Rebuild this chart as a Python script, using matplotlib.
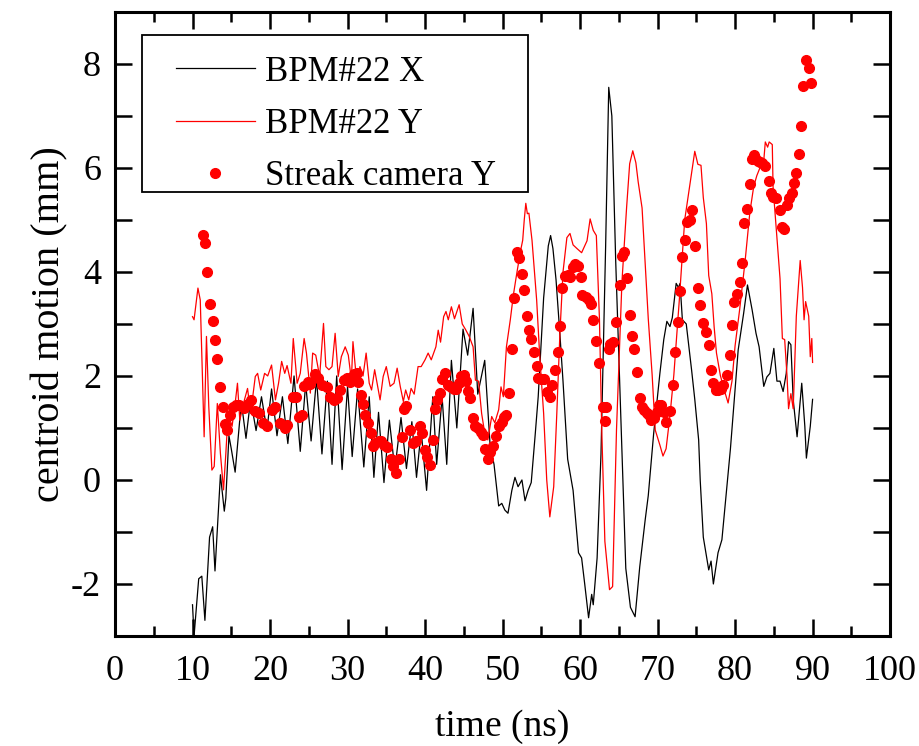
import matplotlib
matplotlib.use("Agg")
import numpy as np
import matplotlib.pyplot as plt
from matplotlib.lines import Line2D
from matplotlib.patches import Rectangle
from matplotlib.legend_handler import HandlerLine2D
from matplotlib.ticker import MultipleLocator, FuncFormatter

plt.rcParams['font.family'] = ['Liberation Serif', 'DejaVu Serif']
plt.rcParams['axes.unicode_minus'] = False

# BPM#22 X (black line)
bpm_x_t = [10.0, 10.2, 10.8, 11.2, 11.6, 12.2, 12.6, 12.9, 13.6, 14.1,
           14.3, 14.7, 15.0, 15.5, 16.3, 16.9, 17.5, 18.2, 18.9, 19.6,
           20.2, 20.9, 21.6, 22.3, 23.1, 23.9, 24.6, 25.3, 26.0, 26.7,
           27.4, 28.0, 28.6, 29.3, 30.0, 30.6, 31.3, 32.1, 32.8, 33.4,
           34.0, 34.7, 35.4, 36.1, 36.9, 37.6, 38.3, 38.9, 39.5, 40.2,
           41.0, 41.5, 42.2, 42.8, 43.4, 44.1, 44.9, 45.5, 46.2, 46.8,
           47.7, 48.4, 48.9, 49.5, 49.9, 50.3, 50.7, 51.2, 51.6, 52.0,
           52.5, 52.9, 53.3, 53.7, 54.2, 54.6, 55.3, 55.9, 56.2, 56.5,
           56.9, 57.4, 57.8, 58.4, 59.1, 59.8, 60.2, 60.6, 61.1, 61.5,
           61.7, 62.2, 62.7, 63.3, 63.7, 64.1, 64.6, 65.3, 65.9, 66.5,
           67.1, 67.7, 68.4, 68.8, 69.5, 70.3, 70.8, 71.2, 71.6, 71.9,
           72.4, 72.7, 72.9, 73.2, 73.7, 74.4, 74.8, 75.3, 75.5, 75.9,
           76.6, 76.9, 77.2, 77.8, 78.3, 78.9, 79.4, 80.0, 80.4, 81.1,
           81.6, 82.2, 82.7, 83.1, 83.7, 84.1, 84.5, 85.0, 85.4, 85.8,
           86.2, 86.6, 86.9, 87.2, 87.5, 88.0, 88.6, 89.0, 89.2, 89.7, 90.0]
bpm_x = [-2.4, -3.0, -1.9, -1.85, -2.7, -1.1, -0.9, -1.75, 0.1, -0.6,
         -0.35, 0.85, 0.6, 0.15, 1.5, 0.8, 1.55, 0.95, 1.6, 0.95,
         1.75, 0.85, 1.6, 0.7, 2.0, 0.55, 1.85, 0.75, 1.95, 0.5,
         1.9, 0.3, 2.0, 0.2, 1.8, 0.45, 1.75, 0.25, 1.6, 0.05,
         1.3, -0.05, 1.15, 0.2, 1.2, 0.22, 1.12, 0.05, 0.95, -0.2,
         1.6, 0.3, 1.6, 0.3, 2.3, 1.0, 2.9, 2.4, 3.3, 1.65,
         2.3, 0.65, 0.3, -0.5, -0.45, -0.58, -0.64, -0.2, 0.05, -0.13,
         0.0, -0.4, -0.2, -0.05, 0.85, 1.6, 3.5, 4.5, 4.7, 4.45,
         3.85, 2.8, 1.9, 0.4, -0.2, -1.4, -1.5, -2.0, -2.65, -2.2,
         -2.4, -1.5, 0.5, 4.5, 7.55, 7.0, 4.2, 1.0, -1.7, -2.45,
         -2.63, -1.67, -0.77, -0.3, 0.9, 2.05, 2.7, 3.05, 2.95, 3.12,
         3.78, 3.7, 3.78, 3.08, 3.0, 2.1, 1.55, 0.77, 0.0, -1.1,
         -1.73, -1.56, -2.0, -1.4, -1.15, -0.2, 0.6, 1.73, 2.5, 3.2,
         3.75, 3.27, 2.82, 2.56, 1.8, 1.98, 2.05, 2.53, 1.9, 1.9,
         1.7, 2.05, 2.66, 2.6, 1.54, 0.83, 1.86, 1.03, 0.42, 1.03, 1.55]

# BPM#22 Y (red line)
bpm_y_t = [10.0, 10.2, 10.7, 11.0, 11.5, 11.8, 12.1, 12.5, 12.8, 13.2,
           13.6, 14.0, 14.3, 14.6, 15.1, 15.5, 15.8, 16.1, 16.7, 17.1,
           17.5, 18.1, 18.4, 18.8, 19.3, 19.7, 20.2, 20.7, 21.1, 21.5,
           21.9, 22.2, 22.7, 23.0, 23.5, 23.9, 24.4, 24.7, 25.2, 25.5,
           25.9, 26.4, 26.9, 27.2, 27.6, 28.0, 28.4, 28.8, 29.2, 29.7,
           30.1, 30.5, 30.7, 31.2, 31.6, 32.0, 32.4, 32.8, 33.1, 33.5,
           34.2, 34.6, 35.0, 35.5, 36.0, 36.4, 36.8, 37.2, 37.5, 37.9,
           38.2, 38.6, 39.1, 39.5, 40.0, 40.4, 40.8, 41.4, 41.7, 42.0,
           42.4, 42.7, 43.0, 43.4, 43.8, 44.4, 44.8, 45.2, 45.7, 46.2,
           46.5, 46.9, 47.3, 47.7, 48.1, 48.6, 49.0, 49.5, 49.8, 50.1,
           50.5, 51.0, 51.4, 51.8, 52.3, 52.6, 52.8, 53.0, 53.2, 53.4,
           53.8, 54.4, 54.8, 55.3, 55.7, 56.1, 56.6, 57.0, 57.4, 57.8,
           58.3, 58.7, 59.1, 59.6, 60.2, 60.6, 60.9, 61.3, 61.7, 62.1,
           62.5, 62.8, 63.2, 63.8, 64.2, 64.7, 65.4, 66.0, 66.4, 66.8,
           67.2, 67.5, 68.0, 68.4, 68.8, 69.3, 69.7, 70.3, 70.7, 71.1,
           71.6, 72.1, 72.8, 73.5, 74.2, 74.8, 75.2, 75.6, 75.9, 76.3,
           76.6, 77.0, 77.3, 77.6, 78.1, 78.6, 79.1, 79.6, 80.0, 80.6,
           81.3, 81.9, 82.4, 82.8, 83.2, 83.7, 83.9, 84.2, 84.4, 84.8,
           84.9, 85.3, 85.8, 86.1, 86.4, 86.7, 86.9, 87.2, 87.5, 87.9,
           88.4, 88.7, 88.9, 89.1, 89.5, 89.7, 89.9, 90.0]
bpm_y = [3.14, 3.08, 3.69, 3.46, 0.83, 2.76, 1.41, 0.19, 0.26, 1.47,
         0.51, -0.19, 0.51, 1.28, 1.03, 1.47, 1.86, 1.15, 1.54, 1.76,
         1.28, 1.99, 2.05, 1.73, 2.05, 2.0, 2.21, 1.54, 1.86, 2.28,
         2.05, 2.2, 1.86, 2.72, 1.86, 2.05, 2.72, 2.44, 1.67, 2.44,
         2.4, 1.99, 3.01, 2.18, 2.12, 2.18, 2.82, 1.99, 2.37, 2.56,
         2.4, 1.92, 2.66, 1.86, 2.18, 2.0, 2.44, 1.86, 1.73, 2.12,
         1.54, 1.99, 2.18, 1.8, 1.86, 2.15, 1.8, 1.51, 1.73, 1.54,
         1.76, 1.65, 2.18, 2.18, 2.31, 2.44, 2.31, 2.56, 2.88, 2.65,
         3.14, 3.24, 3.08, 3.33, 3.1, 3.37, 3.0, 2.9, 2.76, 2.56,
         1.92, 1.9, 1.28, 0.9, 0.77, 1.22, 1.1, 1.35, 1.79, 1.6,
         2.56, 3.08, 3.56, 3.94, 4.39, 4.61, 5.0, 5.32, 5.12, 5.13,
         4.61, 3.46, 2.37, 1.28, 0.0, -0.71, -0.13, 1.28, 2.82, 4.0,
         4.66, 4.74, 4.52, 4.45, 4.37, 4.5, 4.6, 5.02, 4.8, 4.7,
         3.1, 0.96, -1.18, -2.11, -2.05, 0.96, 3.8, 5.23, 6.08, 6.33,
         6.1, 5.73, 5.23, 4.16, 3.1, 2.02, 0.96, 0.67, 0.46, 0.6,
         1.24, 2.02, 3.45, 5.0, 5.71, 6.32, 6.07, 6.05, 5.43, 4.93,
         3.93, 3.58, 2.94, 2.44, 2.01, 1.73, 1.48, 1.9, 2.58, 3.29,
         4.22, 5.14, 5.64, 5.85, 6.0, 6.14, 6.5, 6.4, 6.5, 6.45,
         5.64, 4.86, 3.87, 2.72, 2.7, 2.0, 1.37, 1.66, 1.37, 3.15,
         4.22, 3.7, 3.08, 3.43, 3.15, 2.37, 2.72, 2.26]

# Streak camera Y (red dots)
streak_t = [11.3, 11.6, 11.9, 12.2, 12.6, 12.9, 13.2, 13.5, 13.9, 14.2,
            14.5, 14.9, 15.2, 15.6, 16.0, 16.6, 17.2, 17.6, 18.1, 18.6,
            19.1, 19.6, 20.2, 20.6, 21.3, 21.9, 22.2, 23.0, 23.4, 23.8,
            24.1, 24.4, 24.9, 25.2, 25.8, 26.2, 26.7, 27.3, 27.7, 28.2,
            28.7, 29.0, 29.5, 29.9, 30.3, 30.8, 31.2, 31.4, 31.7, 32.0,
            32.3, 32.7, 33.0, 33.3, 33.6, 34.0, 34.3, 34.7, 35.1, 35.6,
            35.9, 36.3, 36.6, 37.0, 37.3, 37.6, 38.0, 38.4, 38.8, 39.3,
            39.6, 40.0, 40.3, 40.6, 41.0, 41.3, 41.6, 41.9, 42.2, 42.6,
            43.0, 43.3, 43.7, 44.0, 44.4, 44.7, 45.0, 45.3, 45.6, 45.8,
            46.2, 46.5, 46.8, 47.2, 47.5, 47.7, 48.1, 48.4, 48.8, 49.2,
            49.5, 49.9, 50.2, 50.5, 50.8, 51.2, 51.5, 51.8, 52.1, 52.5,
            52.8, 53.2, 53.4, 53.7, 54.1, 54.4, 54.6, 55.0, 55.4, 55.7,
            56.1, 56.4, 56.8, 57.1, 57.4, 57.7, 58.1, 58.5, 58.7, 59.1,
            59.4, 59.7, 60.1, 60.3, 60.8, 61.1, 61.4, 61.7, 62.0, 62.4,
            62.9, 63.2, 63.4, 63.7, 63.9, 64.2, 64.7, 65.1, 65.4, 65.7,
            66.0, 66.4, 66.7, 67.0, 67.3, 67.7, 68.0, 68.3, 68.6, 68.9,
            69.2, 69.6, 69.9, 70.2, 70.5, 70.8, 71.1, 71.6, 72.0, 72.3,
            72.6, 72.9, 73.2, 73.5, 73.8, 74.2, 74.4, 74.8, 75.2, 75.5,
            75.9, 76.2, 76.6, 76.9, 77.2, 77.5, 77.8, 78.2, 78.5, 78.9,
            79.3, 79.6, 79.9, 80.2, 80.6, 80.9, 81.2, 81.5, 81.9, 82.2,
            82.4, 82.6, 82.9, 83.2, 83.5, 83.8, 84.4, 84.6, 84.9, 85.3,
            85.8, 86.0, 86.3, 86.7, 87.0, 87.3, 87.6, 87.9, 88.2, 88.5,
            88.8, 89.2, 89.5, 89.8]
streak_y = [4.71, 4.55, 3.99, 3.38, 3.06, 2.70, 2.33, 1.78, 1.41, 1.08,
            0.97, 1.25, 1.40, 1.45, 1.45, 1.38, 1.47, 1.54, 1.32, 1.28,
            1.09, 1.03, 1.35, 1.41, 1.10, 1.00, 1.05, 1.60, 1.60, 1.22,
            1.24, 1.81, 1.88, 1.85, 2.04, 1.96, 1.83, 1.79, 1.60, 1.54,
            1.57, 1.73, 1.92, 1.96, 1.89, 2.04, 2.05, 1.89, 1.63, 1.47,
            1.25, 1.10, 0.91, 0.65, 0.72, 0.74, 0.74, 0.68, 0.63, 0.40,
            0.26, 0.13, 0.40, 0.82, 1.36, 1.42, 0.96, 0.72, 0.74, 1.03,
            0.90, 0.58, 0.45, 0.29, 0.76, 1.36, 1.53, 1.67, 1.94, 2.05,
            1.83, 1.79, 1.74, 1.74, 1.86, 2.00, 2.02, 1.90, 1.72, 1.57,
            1.19, 1.03, 1.00, 0.93, 0.87, 0.59, 0.40, 0.53, 0.65, 0.85,
            1.03, 1.12, 1.22, 1.25, 1.67, 2.51, 3.49, 4.39, 4.27, 3.97,
            3.65, 3.15, 2.88, 2.72, 2.47, 2.19, 1.97, 1.94, 1.94, 1.70,
            1.60, 1.83, 2.12, 2.47, 2.96, 3.69, 3.92, 3.94, 3.90, 4.10,
            4.15, 4.12, 3.90, 3.56, 3.51, 3.47, 3.39, 3.08, 2.68, 2.24,
            1.41, 1.14, 1.41, 2.51, 2.61, 2.66, 3.04, 3.75, 4.31, 4.39,
            3.88, 3.17, 2.77, 2.51, 2.08, 1.57, 1.41, 1.35, 1.29, 1.25,
            1.15, 1.20, 1.31, 1.45, 1.45, 1.31, 1.12, 1.33, 1.83, 2.47,
            3.03, 3.64, 4.29, 4.62, 4.97, 5.00, 5.19, 4.49, 3.70, 3.37,
            3.01, 2.85, 2.60, 2.12, 1.87, 1.73, 1.73, 1.74, 1.83, 2.02,
            2.40, 2.98, 3.43, 3.58, 3.81, 4.18, 4.94, 5.22, 5.69, 6.17,
            6.25, 6.20, 6.14, 6.12, 6.09, 6.04, 5.75, 5.51, 5.45, 5.42,
            5.19, 4.86, 4.83, 5.29, 5.42, 5.51, 5.71, 5.91, 6.26, 6.81,
            7.58, 8.08, 7.92, 7.64]

labels = ['BPM#22 X', 'BPM#22 Y', 'Streak camera Y']


# legend handle: line drawn only on the right part of the handle box
class ShiftedLine(HandlerLine2D):
    def get_xdata(self, legend, xdescent, ydescent, width, height, fontsize):
        x0 = -xdescent + 0.19 * width
        x1 = -xdescent + width
        return np.array([x0, x1]), np.array([(x0 + x1) / 2])


fig = plt.figure(figsize=(9.2, 7.46), dpi=100)
ax = fig.add_axes([0.125, 0.1475, 0.8425, 0.8365])

ax.plot(bpm_x_t, bpm_x, color='black', lw=0.9)
ax.plot(bpm_y_t, bpm_y, color='red', lw=0.9)
ax.plot(streak_t, streak_y, 'o', color='red', ms=7, mec='red')

ax.set_xlim(0, 100)
ax.set_ylim(-3, 9)
ax.xaxis.set_major_locator(MultipleLocator(10))
ax.xaxis.set_minor_locator(MultipleLocator(5))
ax.yaxis.set_major_locator(MultipleLocator(2))
ax.yaxis.set_minor_locator(MultipleLocator(1))
ax.yaxis.set_major_formatter(FuncFormatter(lambda v, p: '%d' % v))

ax.tick_params(which='both', direction='in', top=True, right=True, width=1.8,
               labelsize=26)
ax.tick_params(axis='x', which='major', length=12, pad=14)
ax.tick_params(axis='x', which='minor', length=7)
ax.tick_params(axis='y', which='both', length=12, pad=10)
for s in ax.spines.values():
    s.set_linewidth(2.2)

ax.set_xlabel('time (ns)', fontsize=27, labelpad=15)
ax.set_ylabel('centroid motion (mm)', fontsize=29, labelpad=2)

# legend frame
ax.add_patch(Rectangle((0.0348, 0.7115), 0.4981, 0.2516, transform=ax.transAxes,
                       fill=False, edgecolor='black', lw=1.3, zorder=4))

handles = [Line2D([], [], color='black', lw=0.9),
           Line2D([], [], color='red', lw=0.9),
           Line2D([], [], ls='', marker='o', color='red', ms=7)]
leg = ax.legend(handles, labels, loc='upper left',
                bbox_to_anchor=(0.0348, 0.955), frameon=False,
                fontsize=25, handlelength=2.8, handletextpad=0.29,
                labelspacing=0.55, borderpad=0.45, borderaxespad=0,
                numpoints=1, handler_map={Line2D: ShiftedLine()})

fig.savefig('out.png', dpi=100)
